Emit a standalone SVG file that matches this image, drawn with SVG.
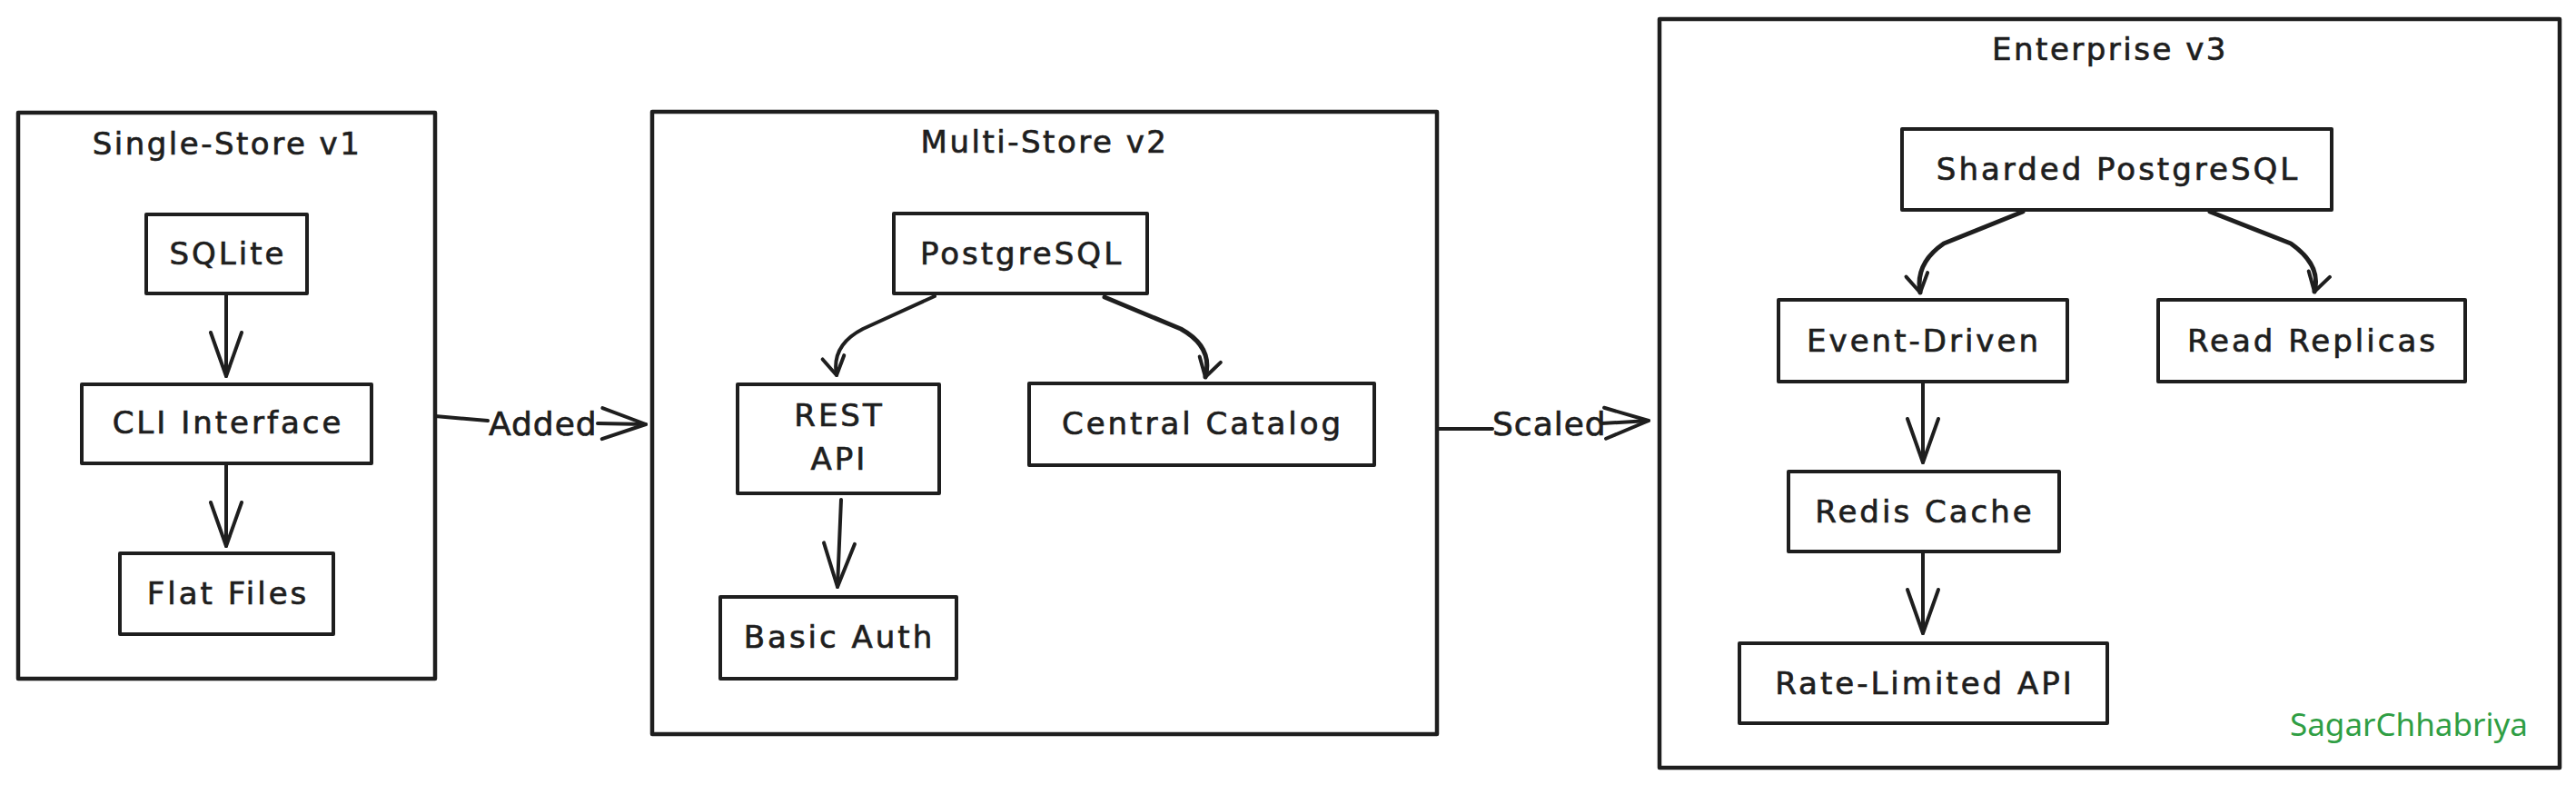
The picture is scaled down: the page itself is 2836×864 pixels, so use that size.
<svg xmlns="http://www.w3.org/2000/svg" width="2836" height="864" viewBox="0 0 2836 864">
<style>
.box{fill:none;stroke:#1e1e1e;stroke-width:4.5;stroke-linejoin:round}
.node{fill:#ffffff;stroke:#1e1e1e;stroke-width:4;stroke-linejoin:round}
.t{font-family:"DejaVu Sans","Liberation Sans",sans-serif;font-size:34px;letter-spacing:3px;fill:#1e1e1e;stroke:#1e1e1e;stroke-width:0.7px;text-anchor:middle}
.title{font-family:"DejaVu Sans","Liberation Sans",sans-serif;font-size:34px;letter-spacing:2.5px;fill:#1e1e1e;stroke:#1e1e1e;stroke-width:0.7px;text-anchor:middle}
.lbl{font-family:"DejaVu Sans","Liberation Sans",sans-serif;font-size:36px;letter-spacing:1px;fill:#1e1e1e;stroke:#1e1e1e;stroke-width:0.7px}
.wm{font-family:"Noto Sans","Open Sans",sans-serif;font-size:35px;fill:#2f9e44}
.c{fill:none;stroke:#1e1e1e;stroke-width:4;stroke-linecap:round;stroke-linejoin:round}
</style>
<defs>
<marker id="head" markerUnits="userSpaceOnUse" viewBox="0 0 54 40" refX="51" refY="20" markerWidth="54" markerHeight="40" orient="auto">
<path d="M3,3 L51,20 L3,37" fill="none" stroke="#1e1e1e" stroke-width="4" stroke-linecap="round" stroke-linejoin="round"/>
</marker>
<marker id="heads" markerUnits="userSpaceOnUse" viewBox="0 0 26 30" refX="23" refY="15" markerWidth="26" markerHeight="30" orient="auto">
<path d="M3,3 L23,15 L3,27" fill="none" stroke="#1e1e1e" stroke-width="4" stroke-linecap="round" stroke-linejoin="round"/>
</marker>
</defs>
<rect width="2836" height="864" fill="#ffffff"/>

<g id="v1">
<rect class="box" x="20" y="124" width="459" height="623"/>
<text class="title" x="250" y="170">Single-Store v1</text>
</g>
<g id="v2">
<rect class="box" x="718" y="123" width="864" height="685"/>
<text class="title" x="1150" y="168">Multi-Store v2</text>
</g>
<g id="v3">
<rect class="box" x="1827" y="21" width="991" height="824"/>
<text class="title" x="2323" y="66">Enterprise v3</text>
</g>

<g id="sqlite"><rect class="node" x="161" y="236" width="177" height="87"/><text class="t" x="251" y="291">SQLite</text></g>
<g id="cli"><rect class="node" x="90" y="423" width="319" height="87"/><text class="t" x="251" y="477">CLI Interface</text></g>
<g id="flat"><rect class="node" x="132" y="609" width="235" height="89"/><text class="t" x="251" y="665">Flat Files</text></g>

<g id="postgres"><rect class="node" x="984" y="235" width="279" height="88"/><text class="t" x="1125" y="291">PostgreSQL</text></g>
<g id="rest"><rect class="node" x="812" y="423" width="222" height="120"/><text class="t" x="924" y="469">REST</text><text class="t" x="924" y="517">API</text></g>
<g id="catalog"><rect class="node" x="1133" y="422" width="380" height="90"/><text class="t" x="1324" y="478">Central Catalog</text></g>
<g id="auth"><rect class="node" x="793" y="657" width="260" height="90"/><text class="t" x="924" y="713">Basic Auth</text></g>

<g id="sharded"><rect class="node" x="2094" y="142" width="473" height="89"/><text class="t" x="2332" y="198">Sharded PostgreSQL</text></g>
<g id="event"><rect class="node" x="1958" y="330" width="318" height="90"/><text class="t" x="2118" y="387">Event-Driven</text></g>
<g id="replicas"><rect class="node" x="2376" y="330" width="338" height="90"/><text class="t" x="2546" y="387">Read Replicas</text></g>
<g id="redis"><rect class="node" x="1969" y="519" width="298" height="88"/><text class="t" x="2119" y="575">Redis Cache</text></g>
<g id="ratelimit"><rect class="node" x="1915" y="708" width="405" height="88"/><text class="t" x="2119" y="764">Rate-Limited API</text></g>

<g id="connectors">
<path class="c" d="M249,324 L249,414" marker-end="url(#head)"/>
<path class="c" d="M249,511 L249,601" marker-end="url(#head)"/>
<path class="c" d="M479,458 L537,463"/>
<path class="c" d="M658,466 L711,467" marker-end="url(#head)"/>
<text class="lbl" x="538" y="479">Added</text>
<path class="c" d="M1029,326 L950,362 Q915,380 921,413" marker-end="url(#heads)"/>
<path class="c" style="stroke-width:5" d="M1216,327 L1300,362 Q1336,382 1327,415" marker-end="url(#heads)"/>
<path class="c" d="M926,550 L922,646" marker-end="url(#head)"/>
<path class="c" d="M1583,472 L1643,472"/>
<path class="c" d="M1763,466 L1815,463" marker-end="url(#head)"/>
<text class="lbl" x="1643" y="479">Scaled</text>
<path class="c" style="stroke-width:5" d="M2227,233 L2140,268 Q2108,290 2114,322" marker-end="url(#heads)"/>
<path class="c" style="stroke-width:5" d="M2433,233 L2522,268 Q2556,292 2548,321" marker-end="url(#heads)"/>
<path class="c" d="M2117,420 L2117,509" marker-end="url(#head)"/>
<path class="c" d="M2117,607 L2117,697" marker-end="url(#head)"/>
</g>

<text class="wm" x="2521" y="810">SagarChhabriya</text>
</svg>
